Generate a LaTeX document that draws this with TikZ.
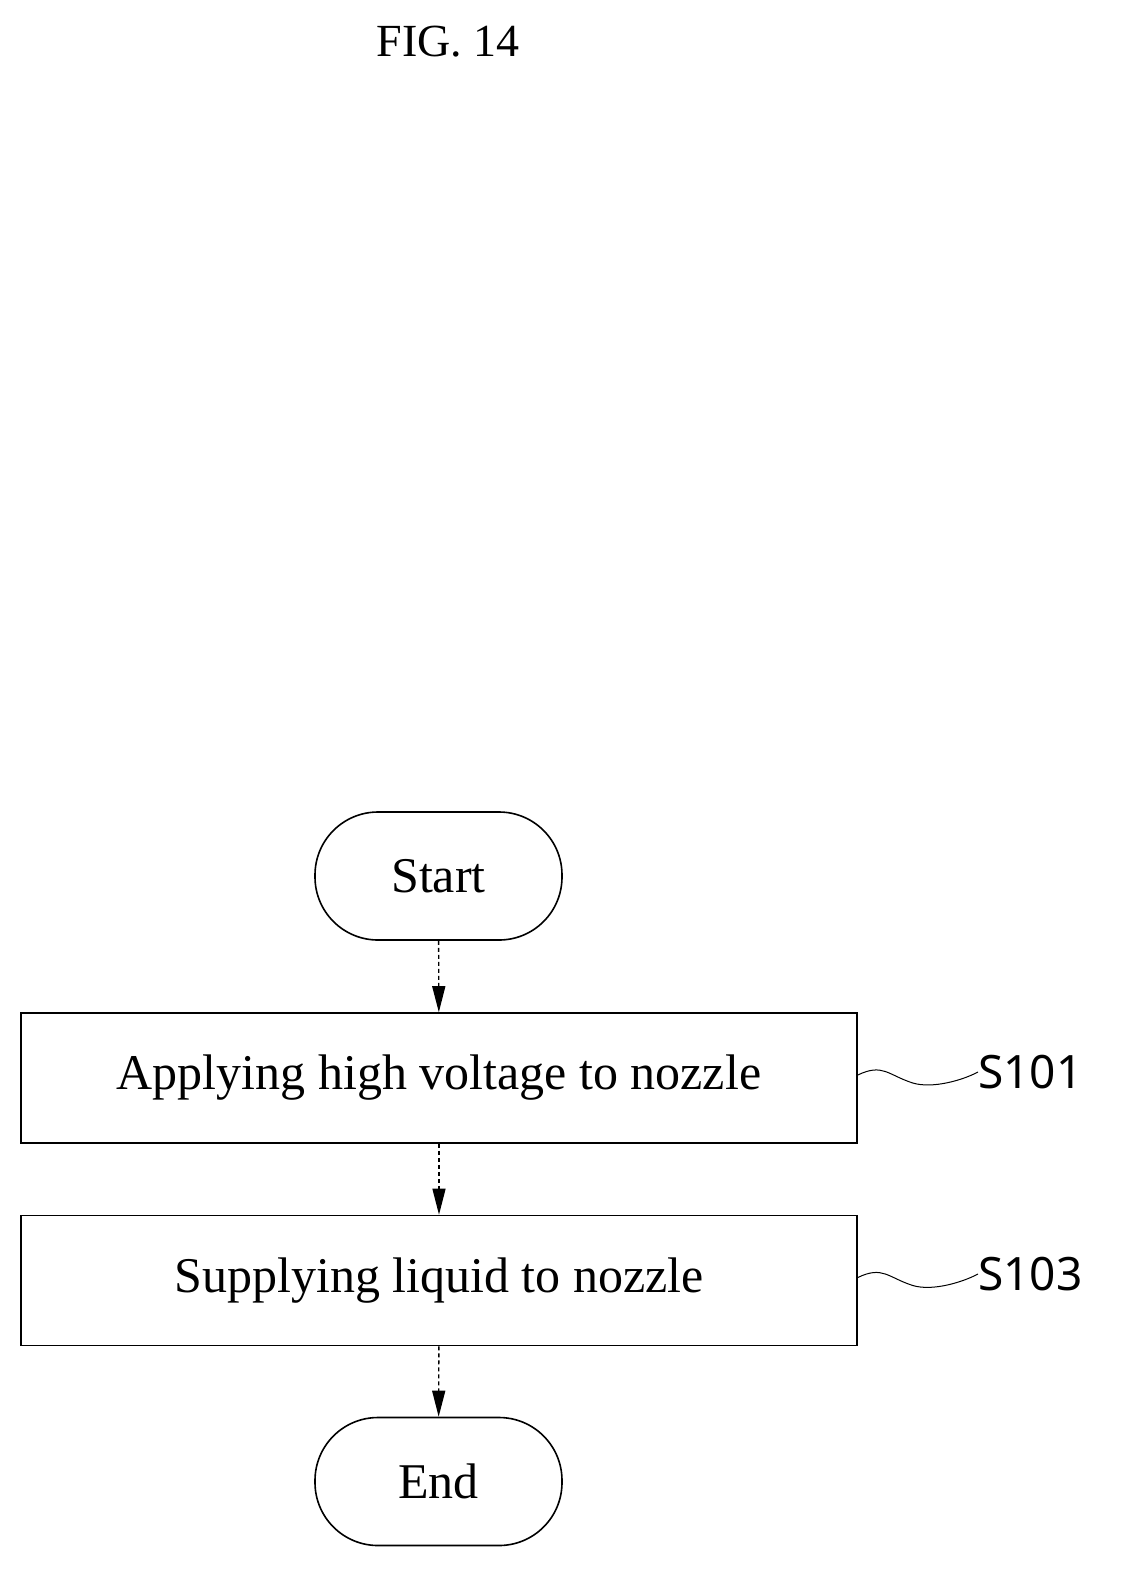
\documentclass[tikz,border=0pt]{standalone}
\usepackage{fontspec}
\setmainfont{Liberation Serif}
\newfontfamily\lab{Noto Sans}
\usetikzlibrary{arrows.meta}
\begin{document}
\begin{tikzpicture}[x=1pt,y=-1pt,
  box/.style={draw,line width=1.6pt,minimum width=836pt,minimum height=130pt,inner sep=0pt,font=\fontsize{50}{56}\selectfont},
  term/.style={draw,line width=1.6pt,rounded corners=63pt,minimum width=247pt,minimum height=128pt,inner sep=0pt,font=\fontsize{50}{56}\selectfont},
  arr/.style={line width=1.4pt,dash pattern=on 4pt off 3pt,-{Triangle[width=13pt,length=26pt]}},
  lbl/.style={font=\lab\fontsize{46}{52}\selectfont,anchor=west,inner sep=0pt}]
\useasboundingbox (0,0) rectangle (1121,1577);
\node[font=\fontsize{46}{52}\selectfont] (fig) at (448,42) {FIG. 14};
\node[term] (start) at (438.5,876) {Start};
\node[box] (s1) at (439,1078) {Applying high voltage to nozzle};
\node[box] (s2) at (439,1280.5) {Supplying liquid to nozzle};
\node[term] (end) at (438.5,1481.5) {End};
\draw[arr] (start) -- (s1);
\draw[arr] (s1) -- (s2);
\draw[arr] (s2) -- (end);
\node[lbl] (l1) at (978,1072) {S101};
\node[lbl] (l2) at (978,1274) {S103};
\draw[line width=1pt] (s1.east) ++(0,-3) coordinate (a1) .. controls +(25,-12) and +(-25,-8) .. +(55,8) .. controls +(20,6) and +(-15,8) .. (l1.west);
\draw[line width=1pt] (s2.east) ++(0,-3) coordinate (a2) .. controls +(25,-12) and +(-25,-8) .. +(55,8) .. controls +(20,6) and +(-15,8) .. (l2.west);
\end{tikzpicture}
\end{document}
